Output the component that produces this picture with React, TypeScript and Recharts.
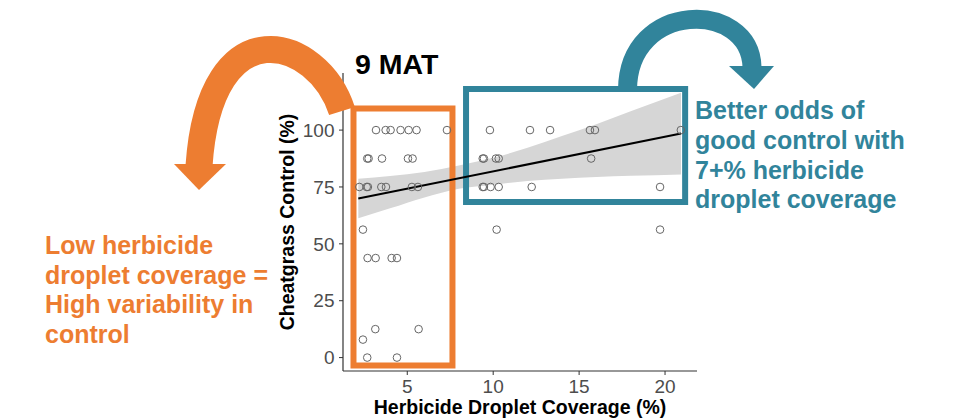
import {
  ComposedChart,
  XAxis,
  YAxis,
  Area,
  Line,
  Scatter,
  ReferenceArea,
} from "recharts";

const FONT = '"Liberation Sans", Arial, Helvetica, sans-serif';
const ORANGE = "#ED7D31";
const TEAL = "#31849B";

const coverage = [
  3.18, 3.74, 4.03, 4.61, 5.08, 5.54, 7.31, 9.81, 12.14, 13.31, 15.63, 15.92, 20.92,
  2.67, 2.75, 3.53, 5.04, 5.31, 9.39, 9.46, 10.16, 10.32, 15.7,
  2.21, 2.64, 2.71, 3.49, 3.76, 5.27, 5.62, 9.39, 9.46, 9.85, 10.32, 12.24, 19.71,
  2.42, 10.2, 19.71,
  2.69, 3.16, 4.09, 4.4,
  3.14, 5.66,
  2.42,
  2.67, 4.4,
];
const control = [
  100, 100, 100, 100, 100, 100, 100, 100, 100, 100, 100, 100, 100,
  87.5, 87.5, 87.5, 87.5, 87.5, 87.5, 87.5, 87.5, 87.5, 87.5,
  75, 75, 75, 75, 75, 75, 75, 75, 75, 75, 75, 75, 75,
  56.25, 56.25, 56.25,
  43.75, 43.75, 43.75, 43.75,
  12.5, 12.5,
  7.9,
  0, 0,
];

// linear fit and its confidence band
const fitX = [2.15, 20.93];
const fitY = [69.9, 98.5];
const bandX = [2.15, 4, 6, 8, 10, 12, 14, 16, 18, 20.93];
const bandLow = [61.2, 65.6, 70.4, 74.2, 76.0, 77.6, 78.6, 79.4, 79.9, 80.5];
const bandHigh = [78.6, 79.8, 81.6, 84.4, 87.8, 92.2, 97.4, 102.6, 108.3, 116.4];

const xTicks = [5, 10, 15, 20];
const yTicks = [0, 25, 50, 75, 100];

const points = coverage.map((x, i) => ({ x, y: control[i] }));
const fitLine = fitX.map((x, i) => ({ x, y: fitY[i] }));
const band = bandX.map((x, i) => ({ x, band: [bandLow[i], bandHigh[i]] }));

const orangeNote = [
  "Low herbicide",
  "droplet coverage =",
  "High variability in",
  "control",
];
const tealNote = [
  "Better odds of",
  "good control with",
  "7+% herbicide",
  "droplet coverage",
];

const tickStyle = { fill: "#4d4d4d", fontSize: 19, fontFamily: FONT };

const XTitle = (props: any) => {
  const { x, y, width, height } = props.viewBox;
  return (
    <text
      x={x + width / 2}
      y={y + height + 13}
      textAnchor="middle"
      fontFamily={FONT}
      fontWeight="bold"
      fontSize={19.5}
      fill="#000"
    >
      Herbicide Droplet Coverage (%)
    </text>
  );
};

const YTitle = (props: any) => {
  const { x, y, height } = props.viewBox;
  return (
    <text
      transform={`translate(${x + 11},${y + height / 2}) rotate(-90)`}
      textAnchor="middle"
      fontFamily={FONT}
      fontWeight="bold"
      fontSize={19.5}
      fill="#000"
    >
      Cheatgrass Control (%)
    </text>
  );
};

const OpenCircle = (props: any) => (
  <circle cx={props.cx} cy={props.cy} r={3.8} fill="none" stroke="#666" strokeWidth={1} />
);

const App = () => {
  return (
    <div
      style={{
        position: "absolute",
        left: 0,
        top: 0,
        width: 960,
        height: 420,
        background: "#fff",
        fontFamily: FONT,
      }}
    >
      <ComposedChart
        width={960}
        height={420}
        data={band}
        margin={{ top: 73, right: 263, bottom: 19, left: 283 }}
      >
        <XAxis
          dataKey="x"
          type="number"
          domain={[1.26, 21.86]}
          allowDataOverflow
          ticks={xTicks}
          tick={tickStyle}
          tickSize={4}
          tickMargin={5}
          height={30}
          axisLine={{ stroke: "#333", strokeWidth: 1.2 }}
          tickLine={{ stroke: "#333" }}
          label={XTitle}
        />
        <YAxis
          type="number"
          domain={[-5.9, 125.1]}
          allowDataOverflow
          ticks={yTicks}
          tick={tickStyle}
          tickSize={4}
          tickMargin={4.5}
          width={60}
          axisLine={{ stroke: "#333", strokeWidth: 1.2 }}
          tickLine={{ stroke: "#333" }}
          label={YTitle}
        />
        <Area
          dataKey="band"
          type="monotone"
          stroke="none"
          fill="#d6d6d6"
          fillOpacity={1}
          isAnimationActive={false}
        />
        <Scatter data={points} dataKey="y" shape={OpenCircle} isAnimationActive={false} />
        <Line
          data={fitLine}
          dataKey="y"
          type="linear"
          stroke="#000"
          strokeWidth={2}
          dot={false}
          activeDot={false}
          isAnimationActive={false}
        />
        <ReferenceArea
          x1={1.87}
          x2={7.63}
          y1={-3.5}
          y2={109.5}
          fill="none"
          fillOpacity={0}
          stroke={ORANGE}
          strokeWidth={6}
          ifOverflow="visible"
        />
        <ReferenceArea
          x1={8.42}
          x2={21.17}
          y1={68.4}
          y2={118.1}
          fill="none"
          fillOpacity={0}
          stroke={TEAL}
          strokeWidth={6}
          ifOverflow="visible"
        />
      </ComposedChart>

      <svg
        width={960}
        height={420}
        style={{ position: "absolute", left: 0, top: 0, pointerEvents: "none" }}
      >
        <text x={355} y={74} fontFamily={FONT} fontWeight="bold" fontSize={28.5} fill="#000">
          9 MAT
        </text>

        {/* orange curved arrow */}
        <path
          d="M342 111 C318 36 210 4 199 166"
          fill="none"
          stroke={ORANGE}
          strokeWidth={27}
        />
        <polygon points="174,164 226,164 199,190" fill={ORANGE} />

        {/* teal curved arrow */}
        <path
          d="M627.5 90 C628 0 750 0 752 67"
          fill="none"
          stroke={TEAL}
          strokeWidth={19}
        />
        <polygon points="729,66 774,66 754,89" fill={TEAL} />

        {orangeNote.map((s, i) => (
          <text
            key={s}
            x={45}
            y={254 + i * 29.7}
            fontFamily={FONT}
            fontWeight="bold"
            fontSize={25}
            fill={ORANGE}
          >
            {s}
          </text>
        ))}
        {tealNote.map((s, i) => (
          <text
            key={s}
            x={695}
            y={119.3 + i * 29.7}
            fontFamily={FONT}
            fontWeight="bold"
            fontSize={25}
            fill={TEAL}
          >
            {s}
          </text>
        ))}
      </svg>
    </div>
  );
};

export default App;
